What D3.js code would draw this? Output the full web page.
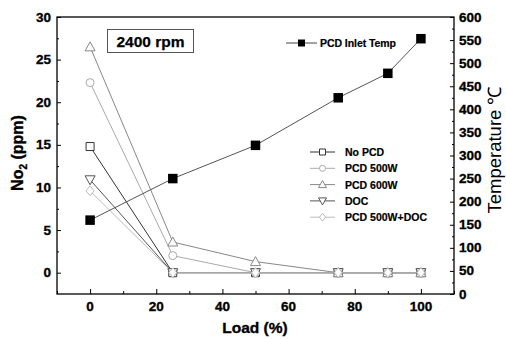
<!DOCTYPE html>
<html><head><meta charset="utf-8">
<script src="https://cdn.jsdelivr.net/npm/d3@7"></script>
<style>body{margin:0;background:#fff}svg{display:block;font-family:"Liberation Sans",Arial,sans-serif}</style>
</head><body><svg id="c" width="506" height="339"></svg>
<script>
const loads = [0, 25, 50, 75, 90, 100];
const inletTemp = [160, 250, 322, 425, 478, 553];
const noPCD = [14.8, 0, 0, 0, 0, 0];
const pcd500 = [22.3, 2.0, 0, 0, 0, 0];
const pcd600 = [26.5, 3.6, 1.3, 0, 0, 0];
const doc = [10.9, 0, 0, 0, 0, 0];
const pcd500doc = [9.6, 0, 0, 0, 0, 0];
const leftTicks = [0, 5, 10, 15, 20, 25, 30];
const rightTicks = [0, 50, 100, 150, 200, 250, 300, 350, 400, 450, 500, 550, 600];
const xTicks = [0, 20, 40, 60, 80, 100];

const series = [
  {name: "No PCD", vals: noPCD, sym: "square", color: "#333"},
  {name: "PCD 500W", vals: pcd500, sym: "circle", color: "#aaa"},
  {name: "PCD 600W", vals: pcd600, sym: "triangle", color: "#888"},
  {name: "DOC", vals: doc, sym: "triangleDown", color: "#555"},
  {name: "PCD 500W+DOC", vals: pcd500doc, sym: "diamond", color: "#bbb"}
];

const svg = d3.select("#c");
const L = 57, R = 454, T = 17, B = 294;
const x = d3.scaleLinear().domain([-10, 110]).range([L, R]);
const yL = d3.scaleLinear().domain([-2.5, 30]).range([B, T]);
const yR = d3.scaleLinear().domain([0, 600]).range([B, T]);

function sym(type, s) {
  const h = s / 2;
  if (type === "square") return `M${-h},${-h}h${s}v${s}h${-s}Z`;
  if (type === "circle") return d3.symbol(d3.symbolCircle, Math.PI * h * h)();
  if (type === "triangle") return `M0,${-h - 1}L${h + 1},${h}L${-h - 1},${h}Z`;
  if (type === "triangleDown") return `M0,${h + 1}L${h + 1},${-h}L${-h - 1},${-h}Z`;
  if (type === "diamond") return `M0,${-h - 1}L${h},0L0,${h + 1}L${-h},0Z`;
}
const bold = sel => sel.attr("font-weight", "bold").attr("stroke", "#000").attr("stroke-width", 0.35);

// axes
svg.append("g").attr("transform", `translate(${L},0)`)
  .call(d3.axisRight(yL).tickValues(leftTicks).tickSize(4).tickFormat(""));
svg.append("g").attr("transform", `translate(${L},0)`)
  .call(d3.axisRight(yL).tickValues(d3.range(2.5, 30, 5)).tickSize(2).tickFormat(""));
svg.append("g").selectAll("text").data(leftTicks).join("text")
  .attr("x", L - 6).attr("y", d => yL(d) + 4.5).attr("text-anchor", "end")
  .attr("font-size", 13.5).call(bold).text(d => d);

svg.append("g").attr("transform", `translate(${R},0)`)
  .call(d3.axisLeft(yR).tickValues(rightTicks).tickSize(4).tickFormat(""));
svg.append("g").attr("transform", `translate(${R},0)`)
  .call(d3.axisLeft(yR).tickValues(d3.range(25, 600, 50)).tickSize(2).tickFormat(""));
svg.append("g").selectAll("text").data(rightTicks).join("text")
  .attr("x", R + 5).attr("y", d => yR(d) + 4.5).attr("text-anchor", "start")
  .attr("font-size", 13.5).call(bold).text(d => d);

svg.append("g").attr("transform", `translate(0,${B})`)
  .call(d3.axisTop(x).tickValues(xTicks).tickSize(5).tickFormat(""));
svg.append("g").attr("transform", `translate(0,${B})`)
  .call(d3.axisTop(x).tickValues([-10, 10, 30, 50, 70, 90, 110]).tickSize(3).tickFormat(""));
svg.append("g").selectAll("text").data(xTicks).join("text")
  .attr("x", d => x(d)).attr("y", B + 16.5).attr("text-anchor", "middle")
  .attr("font-size", 13.5).call(bold).text(d => d);

svg.selectAll(".domain").remove();
svg.append("rect").attr("x", L).attr("y", T).attr("width", R - L).attr("height", B - T)
  .attr("fill", "none").attr("stroke", "#000").attr("stroke-width", 1.3);
svg.selectAll(".tick line").attr("stroke", "#000");

// titles
svg.append("text").attr("x", 255).attr("y", 333).attr("text-anchor", "middle")
  .attr("font-size", 15.5).call(bold).text("Load (%)");
const yt = svg.append("text").attr("transform", "translate(23,153) rotate(-90)")
  .attr("text-anchor", "middle").attr("font-size", 16).call(bold);
yt.append("tspan").text("No");
yt.append("tspan").attr("font-size", 10).attr("dy", 4).text("2");
yt.append("tspan").attr("dy", -4).text(" (ppm)");
svg.append("text").attr("transform", "translate(501,150) rotate(-90)")
  .attr("text-anchor", "middle").attr("font-size", 18.5).text("Temperature ℃");

// annotation box
svg.append("rect").attr("x", 107.5).attr("y", 29.5).attr("width", 86).attr("height", 23)
  .attr("fill", "#fff").attr("stroke", "#555");
svg.append("text").attr("x", 150.5).attr("y", 47).attr("text-anchor", "middle")
  .attr("font-size", 15.5).call(bold).attr("stroke-width", 0.25).text("2400 rpm");

// series lines
const plot = svg.append("g");
series.forEach(s => {
  plot.append("path").datum(loads.map((l, i) => [l, s.vals[i]]))
    .attr("fill", "none").attr("stroke", s.color).attr("stroke-width", 1)
    .attr("d", d3.line().x(d => x(d[0])).y(d => yL(d[1])));
});
plot.append("path").datum(loads.map((l, i) => [l, inletTemp[i]]))
  .attr("fill", "none").attr("stroke", "#555").attr("stroke-width", 1)
  .attr("d", d3.line().x(d => x(d[0])).y(d => yR(d[1])));
series.forEach(s => {
  plot.append("g").selectAll("path").data(loads.map((l, i) => [l, s.vals[i]])).join("path")
    .attr("transform", d => `translate(${x(d[0])},${yL(d[1])})`)
    .attr("d", sym(s.sym, 8)).attr("fill", "#fff").attr("fill-opacity", 0.9)
    .attr("stroke", s.color).attr("stroke-width", 1);
});
plot.append("g").selectAll("path").data(loads.map((l, i) => [l, inletTemp[i]])).join("path")
  .attr("transform", d => `translate(${x(d[0])},${yR(d[1])})`)
  .attr("d", sym("square", 9.5)).attr("fill", "#000");

// legends
const lg1 = svg.append("g").attr("transform", "translate(286,43)");
lg1.append("line").attr("x1", 0).attr("x2", 31).attr("stroke", "#444");
lg1.append("path").attr("transform", "translate(15.5,0)").attr("d", sym("square", 7)).attr("fill", "#000");
lg1.append("text").attr("x", 34).attr("y", 4).attr("font-size", 10.5).call(bold).attr("stroke-width", 0.2)
  .attr("textLength", 76).text("PCD Inlet Temp");

const lg2 = svg.append("g").attr("transform", "translate(310,152)");
series.forEach((s, i) => {
  const g = lg2.append("g").attr("transform", `translate(0,${i * 16.3})`);
  g.append("line").attr("x1", 0).attr("x2", 25).attr("stroke", s.color);
  g.append("path").attr("transform", "translate(12.5,0)").attr("d", sym(s.sym, 6))
    .attr("fill", "#fff").attr("stroke", s.color);
  g.append("text").attr("x", 35).attr("y", 4).attr("font-size", 10.5).call(bold).attr("stroke-width", 0.2).text(s.name);
});
</script></body></html>
